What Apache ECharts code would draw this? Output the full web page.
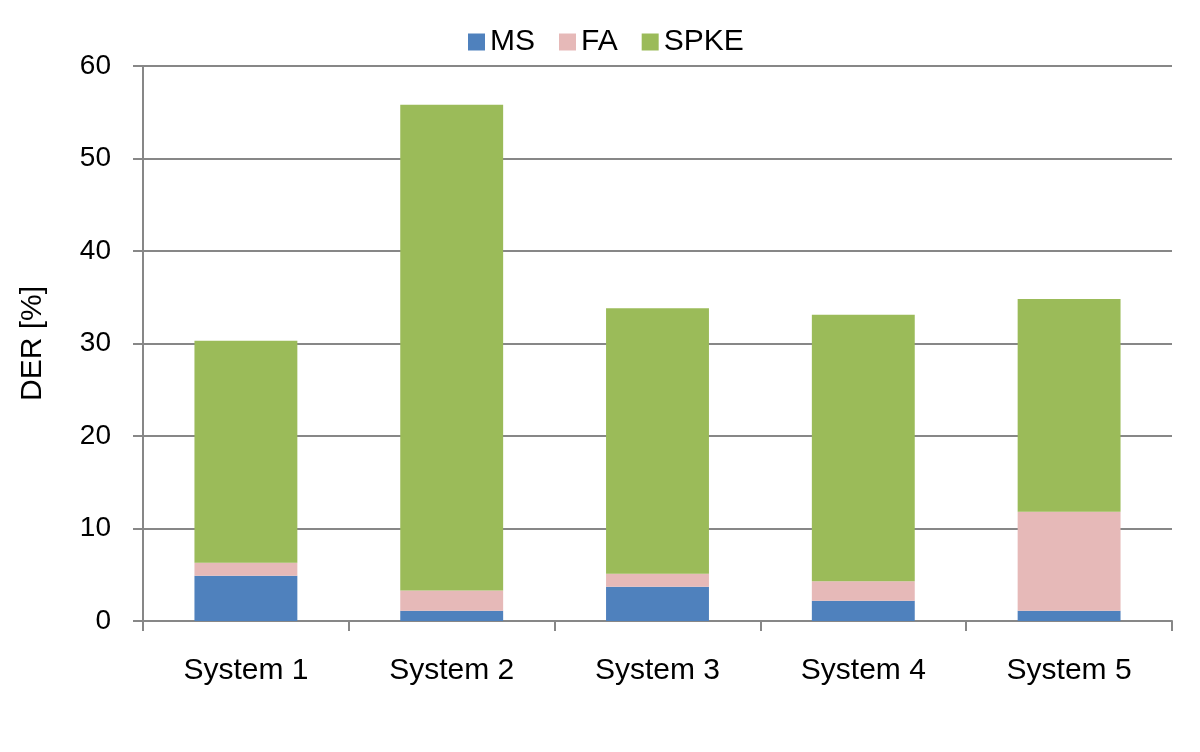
<!DOCTYPE html>
<html><head><meta charset="utf-8">
<script src="https://cdn.jsdelivr.net/npm/echarts@6/dist/echarts.min.js"></script>
<style>html,body{margin:0;padding:0;background:#fff}#c{width:1200px;height:752px}</style>
</head><body><div id="c"></div>
<script>
var categories = ['System 1','System 2','System 3','System 4','System 5'];
var msValues = [4.9, 1.1, 3.7, 2.2, 1.1];
var faValues = [1.4, 2.2, 1.4, 2.1, 10.7];
var spkeValues = [24.0, 52.5, 28.7, 28.8, 23.0];
var yTicks = [0, 10, 20, 30, 40, 50, 60];

var chart = echarts.init(document.getElementById('c'));
var font = 'Liberation Sans, Arial, Helvetica, sans-serif';
function s(name, data, color){
  return {name:name, type:'bar', stack:'t', data:data, barWidth:'50%', itemStyle:{color:color}};
}
chart.setOption({
  animation:false,
  textStyle:{fontFamily:font},
  legend:{top:22, left:463, itemWidth:17, itemHeight:17, itemGap:24,
    textStyle:{fontSize:30, color:'#000', fontFamily:font},
    icon:'rect', data:['MS','FA','SPKE']},
  grid:{left:143, right:28, top:66, bottom:131},
  xAxis:{type:'category', data:categories,
    axisLine:{lineStyle:{color:'#878787', width:2}},
    axisTick:{show:true, length:10, lineStyle:{color:'#878787', width:2}},
    axisLabel:{fontSize:30, color:'#000', margin:35, fontFamily:font}},
  yAxis:{type:'value', min:yTicks[0], max:yTicks[yTicks.length-1], interval:10,
    name:'DER [%]', nameLocation:'middle', nameGap:95, nameRotate:90,
    nameTextStyle:{fontSize:30, color:'#000', fontFamily:font},
    axisLine:{show:true, lineStyle:{color:'#878787', width:2}},
    axisTick:{show:true, length:10, inside:false, lineStyle:{color:'#878787', width:2}},
    splitLine:{lineStyle:{color:'#878787', width:2}},
    axisLabel:{fontSize:28, color:'#000', margin:32, fontFamily:font}},
  series:[s('MS', msValues, '#4F81BD'), s('FA', faValues, '#E6B9B8'), s('SPKE', spkeValues, '#9BBB59')]
});
</script></body></html>
